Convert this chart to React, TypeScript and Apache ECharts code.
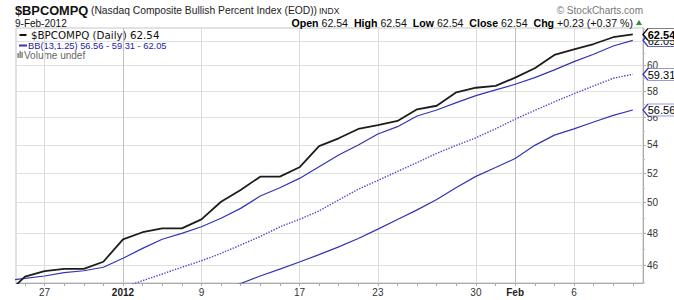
import React, { useEffect, useRef } from 'react';
import * as echarts from 'echarts';

// Trading days shown (index 0 = Dec 22, 2011)
const dayLabels = [
  'Dec 22', 'Dec 23', 'Dec 27', 'Dec 28', 'Dec 29', 'Dec 30',
  'Jan 3', 'Jan 4', 'Jan 5', 'Jan 6', 'Jan 9', 'Jan 10', 'Jan 11', 'Jan 12', 'Jan 13',
  'Jan 17', 'Jan 18', 'Jan 19', 'Jan 20', 'Jan 23', 'Jan 24', 'Jan 25', 'Jan 26', 'Jan 27',
  'Jan 30', 'Jan 31', 'Feb 1', 'Feb 2', 'Feb 3', 'Feb 6', 'Feb 7', 'Feb 8', 'Feb 9',
];

const closeValues = [
  44.2, 45.31, 45.65, 45.78, 45.78, 46.22,
  47.62, 48.07, 48.32, 48.32, 48.9, 50.06, 50.85, 51.76, 51.76,
  52.41, 53.91, 54.47, 55.15, 55.44, 55.74, 56.61, 56.88, 57.91,
  58.26, 58.4, 59.05, 59.79, 60.86, 61.32, 61.75, 62.31, 62.54,
];

const upperBand = [
  45.05, 45.21, 45.35, 45.55, 45.67, 45.88,
  46.43, 47.05, 47.62, 48.0, 48.42, 48.97, 49.62, 50.44, 51.0,
  51.64, 52.45, 53.27, 53.99, 54.78, 55.32, 56.11, 56.56, 57.12,
  57.65, 58.09, 58.53, 59.05, 59.66, 60.32, 60.91, 61.59, 62.05,
];

const middleBand: (number | null)[] = [
  null, null, null, null, null, 44.26,
  44.66, 45.07, 45.47, 45.88, 46.28, 46.74, 47.26, 47.8, 48.41,
  48.9, 49.45, 50.18, 50.9, 51.5, 52.12, 52.74, 53.39, 53.96,
  54.51, 55.16, 55.88, 56.53, 57.18, 57.8, 58.4, 59.0, 59.31,
];

const lowerBand: (number | null)[] = [
  null, null, null, null, null, null,
  null, null, null, null, 44.06, 44.5, 44.9, 45.35, 45.77,
  46.2, 46.66, 47.14, 47.67, 48.27, 48.89, 49.52, 50.21, 51.02,
  51.78, 52.39, 53.02, 53.96, 54.7, 55.16, 55.66, 56.16, 56.56,
];

const xTickIndex = [2, 6, 10, 15, 19, 24, 26, 29];
const xTickText = ['27', '2012', '9', '17', '23', '30', 'Feb', '6'];
const xTickBold = [false, true, false, false, false, false, true, false];
const yTicks = [46, 48, 50, 52, 54, 56, 58, 60, 62];
const yMinorTicks = [45, 47, 49, 51, 53, 55, 57, 59, 61, 63];

const X_MIN = 0.544;
const X_MAX = 32.52;
const Y_MIN = 44.93;
const Y_MAX = 63.08;

const FONT = 'Liberation Sans, Arial, sans-serif';
const BLUE = '#3434b4';

function toPairs(arr: (number | null)[]) {
  const out: [number, number][] = [];
  arr.forEach((v, i) => {
    if (v !== null && v !== undefined) out.push([i, v]);
  });
  return out;
}

function tag(value: number, border: string, bold: boolean, z: number) {
  return {
    silent: true,
    z,
    symbol: 'path://M0,6L5,0L32,0L32,12L5,12Z',
    symbolSize: [32, 12],
    symbolOffset: [16, 0],
    itemStyle: { color: '#ffffff', borderColor: border, borderWidth: 1 },
    label: {
      show: true,
      position: 'inside',
      offset: [2.5, 0.5],
      color: '#000',
      fontFamily: FONT,
      fontSize: 11,
      fontWeight: bold ? 'bold' : 'normal',
      formatter: value.toFixed(2),
    },
    data: [{ coord: [X_MAX - 0.0001, value], value }],
  };
}

export default function App() {
  const ref = useRef<HTMLDivElement>(null);

  useEffect(() => {
    if (!ref.current) return;
    const chart = echarts.init(ref.current, undefined, { renderer: 'svg' });
    const last = dayLabels.length - 1;

    const option: any = {
      animation: false,
      backgroundColor: '#ffffff',
      grid: {
        left: 16,
        right: 31,
        top: 28,
        bottom: 17,
        show: true,
        borderColor: '#c4c4c4',
        borderWidth: 1,
        containLabel: false,
        outerBoundsMode: 'none',
      },
      xAxis: [
        {
          type: 'value',
          min: X_MIN,
          max: X_MAX,
          position: 'bottom',
          axisLine: { show: true, lineStyle: { color: '#aaaaaa', width: 1 } },
          axisTick: {
            show: true,
            customValues: dayLabels.map((_, i) => i).filter((i) => i >= 1),
            length: 3,
            lineStyle: { color: '#aaaaaa' },
          },
          axisLabel: { show: false },
          splitLine: { show: false },
        },
        {
          type: 'value',
          min: X_MIN,
          max: X_MAX,
          position: 'bottom',
          axisLine: { show: false },
          axisTick: { show: false, customValues: xTickIndex },
          axisLabel: {
            show: true,
            customValues: xTickIndex,
            margin: 4,
            fontFamily: FONT,
            fontSize: 10,
            color: '#333',
            formatter: (v: number) => {
              const k = xTickIndex.indexOf(Math.round(v));
              if (k < 0) return '';
              return xTickBold[k] ? `{b|${xTickText[k]}}` : xTickText[k];
            },
            rich: {
              b: { fontFamily: FONT, fontSize: 10, fontWeight: 'bold', color: '#222' },
            },
          },
          splitLine: {
            show: true,
            lineStyle: {
              color: ['#dcdcdc', '#c0c0c0', '#dcdcdc', '#dcdcdc', '#dcdcdc', '#dcdcdc', '#c0c0c0', '#dcdcdc'],
              width: 1,
            },
          },
        },
      ],
      yAxis: [
        {
          type: 'log',
          logBase: 10,
          position: 'right',
          min: Y_MIN,
          max: Y_MAX,
          axisLine: { show: true, lineStyle: { color: '#aaaaaa' } },
          axisTick: { show: true, customValues: yTicks, length: 3, lineStyle: { color: '#aaaaaa' } },
          axisLabel: {
            show: true,
            customValues: yTicks,
            margin: 4,
            fontFamily: FONT,
            fontSize: 10,
            color: '#333',
          },
          splitLine: { show: true, lineStyle: { color: '#e0e0e0', width: 1 } },
        },
        {
          type: 'log',
          logBase: 10,
          position: 'right',
          min: Y_MIN,
          max: Y_MAX,
          axisLine: { show: false },
          axisTick: { show: true, customValues: yMinorTicks, length: 2, lineStyle: { color: '#bbbbbb' } },
          axisLabel: { show: false },
          splitLine: { show: false },
        },
      ],
      series: [
        {
          name: 'BB Upper',
          type: 'line',
          xAxisIndex: 0,
          yAxisIndex: 0,
          data: toPairs(upperBand),
          symbol: 'none',
          z: 2,
          lineStyle: { color: BLUE, width: 1.2 },
          markPoint: tag(upperBand[last] as number, BLUE, false, 5),
        },
        {
          name: 'BB Middle',
          type: 'line',
          xAxisIndex: 0,
          yAxisIndex: 0,
          data: toPairs(middleBand),
          symbol: 'none',
          z: 2,
          lineStyle: { color: '#4848c8', width: 1.4, type: 'dotted' },
          markPoint: tag(middleBand[last] as number, BLUE, false, 5),
        },
        {
          name: 'BB Lower',
          type: 'line',
          xAxisIndex: 0,
          yAxisIndex: 0,
          data: toPairs(lowerBand),
          symbol: 'none',
          z: 2,
          lineStyle: { color: BLUE, width: 1.2 },
          markPoint: tag(lowerBand[last] as number, BLUE, false, 5),
        },
        {
          name: '$BPCOMPQ',
          type: 'line',
          xAxisIndex: 0,
          yAxisIndex: 0,
          data: toPairs(closeValues),
          symbol: 'none',
          z: 3,
          lineStyle: { color: '#1c1c1c', width: 1.8 },
          markPoint: tag(closeValues[last], '#000', true, 7),
        },
      ],
      graphic: [
        {
          type: 'text', x: 15, y: 10,
          style: { text: '$BPCOMPQ', fontFamily: FONT, fontSize: 12.8, fontWeight: 'bold', fill: '#111', textVerticalAlign: 'middle', verticalAlign: 'middle' },
        },
        {
          type: 'text', x: 91, y: 10.5,
          style: { text: '(Nasdaq Composite Bullish Percent Index (EOD))', fontFamily: FONT, fontSize: 10.3, fill: '#222', textVerticalAlign: 'middle', verticalAlign: 'middle' },
        },
        {
          type: 'text', x: 319, y: 11,
          style: { text: 'INDX', fontFamily: FONT, fontSize: 8.5, fill: '#222', textVerticalAlign: 'middle', verticalAlign: 'middle' },
        },
        {
          type: 'text', x: 15, y: 23,
          style: { text: '9-Feb-2012', fontFamily: FONT, fontSize: 10, fill: '#111', textVerticalAlign: 'middle', verticalAlign: 'middle' },
        },
        {
          type: 'text', x: 643, y: 10,
          style: { text: '\u00A9 StockCharts.com', fontFamily: FONT, fontSize: 10, fill: '#777', textAlign: 'right', align: 'right', textVerticalAlign: 'middle', verticalAlign: 'middle' },
        },
        {
          type: 'text', x: 633, y: 23,
          style: {
            text: '{b|Open} 62.54  {b|High} 62.54  {b|Low} 62.54  {b|Close} 62.54  {b|Chg} +0.23 (+0.37 %)',
            fontFamily: FONT, fontSize: 10.6, fill: '#111',
            textAlign: 'right', align: 'right', textVerticalAlign: 'middle', verticalAlign: 'middle',
            rich: { b: { fontFamily: FONT, fontSize: 10.6, fontWeight: 'bold', fill: '#000' } },
          },
        },
        {
          type: 'polygon',
          shape: { points: [[636, 25], [642, 25], [639, 20]] },
          style: { fill: '#2e8b2e' },
        },
        {
          type: 'rect', shape: { x: 19.5, y: 34, width: 7, height: 2 }, style: { fill: '#111' },
        },
        {
          type: 'text', x: 31, y: 35,
          style: { text: '$BPCOMPQ (Daily) 62.54', fontFamily: 'DejaVu Sans, Verdana, sans-serif', fontSize: 10.3, fill: '#111', textVerticalAlign: 'middle', verticalAlign: 'middle' },
        },
        {
          type: 'rect', shape: { x: 19, y: 44.5, width: 8, height: 2 }, style: { fill: BLUE },
        },
        {
          type: 'text', x: 28, y: 45.5,
          style: { text: 'BB(13,1.25) 56.56 - 59.31 - 62.05', fontFamily: FONT, fontSize: 9.3, fill: '#2222a0', textVerticalAlign: 'middle', verticalAlign: 'middle' },
        },
        { type: 'rect', shape: { x: 17.5, y: 53, width: 1.2, height: 5 }, style: { fill: '#666' } },
        { type: 'rect', shape: { x: 19.5, y: 51, width: 1.2, height: 7 }, style: { fill: '#666' } },
        { type: 'rect', shape: { x: 21.5, y: 52, width: 1.2, height: 6 }, style: { fill: '#666' } },
        {
          type: 'text', x: 24, y: 55,
          style: { text: 'Volume undef', fontFamily: FONT, fontSize: 10, fill: '#666', textVerticalAlign: 'middle', verticalAlign: 'middle' },
        },
      ],
    };

    chart.setOption(option);
    return () => chart.dispose();
  }, []);

  return (
    <div
      ref={ref}
      style={{ position: 'fixed', left: 0, top: 0, width: 674, height: 300, background: '#fff' }}
    />
  );
}
